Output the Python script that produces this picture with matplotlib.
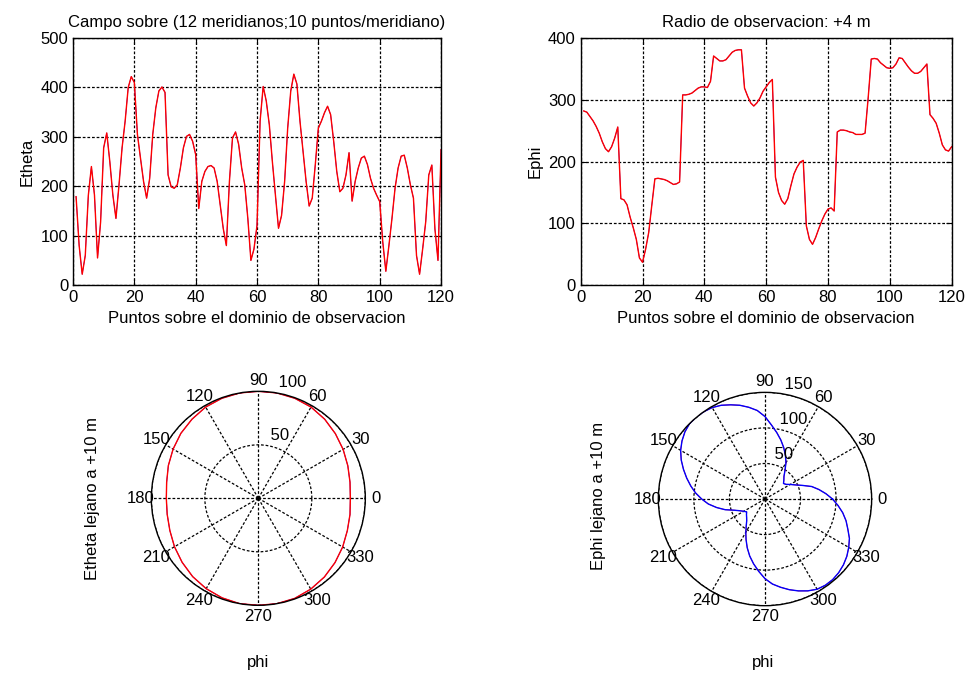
# Campo lejano: cortes Etheta / Ephi sobre el dominio de observacion
# y diagramas polares a +10 m (estilo figura MATLAB)

import matplotlib
matplotlib.use("Agg")
import matplotlib.pyplot as plt
import numpy as np

plt.rcParams['font.family'] = ['Liberation Sans', 'DejaVu Sans']
plt.rcParams['font.size'] = 12

puntos = list(range(1, 121))

etheta = [179, 80, 22, 60, 182, 240, 182, 55, 128, 278,
          308, 250, 182, 135, 203, 278, 332, 400, 422, 410,
          305, 257, 210, 176, 216, 305, 359, 393, 401, 390,
          223, 199, 196, 203, 237, 278, 301, 305, 291, 264,
          155, 210, 230, 240, 242, 237, 210, 162, 114, 80,
          210, 298, 310, 285, 237, 203, 135, 50, 73, 121,
          332, 402, 373, 325, 250, 182, 115, 141, 210, 318,
          393, 427, 407, 332, 271, 210, 160, 176, 244, 318,
          332, 349, 362, 345, 291, 230, 189, 196, 223, 268,
          170, 210, 237, 257, 261, 244, 216, 196, 182, 169,
          87, 28, 80, 135, 196, 237, 261, 263, 237, 203,
          176, 60, 22, 73, 128, 223, 243, 114, 50, 274]

ephi = [282, 280, 273, 266, 257, 246, 232, 221, 216, 224,
        238, 256, 140, 138, 130, 110, 93, 74, 44, 37,
        58, 85, 129, 172, 173, 172, 171, 169, 166, 163,
        164, 167, 308, 308, 309, 311, 315, 319, 321, 321,
        320, 330, 371, 367, 363, 363, 365, 371, 377, 380,
        381, 381, 319, 306, 295, 290, 295, 303, 314, 321,
        328, 333, 175, 150, 137, 131, 140, 161, 180, 191,
        199, 202, 96, 74, 66, 77, 91, 104, 115, 123,
        125, 120, 248, 251, 251, 250, 248, 247, 244, 244,
        244, 246, 303, 366, 367, 366, 360, 356, 352, 351,
        352, 358, 368, 367, 360, 353, 347, 343, 343, 346,
        352, 358, 276, 270, 262, 246, 227, 219, 217, 224]

# polar patterns (angle in degrees)
phi_theta = [0, 10, 20, 30, 40, 50, 60, 70, 80, 90, 100, 110, 120,
             130, 140, 150, 160, 170, 180, 190, 200, 210, 220, 230, 240,
             250, 260, 270, 280, 290, 300, 310, 320, 330, 340, 350, 360]
etheta_lejano = [86, 87, 89, 91.5, 94, 96.5, 98.5, 99.5, 100, 100, 100, 99.5, 98.5,
                 96.5, 94.5, 92, 89.5, 87, 86, 86.5, 88, 90.5, 93, 95.5, 97.5,
                 99, 100, 100, 100, 99.5, 98, 96, 93.5, 91, 88.5, 87, 86]

phi_phi = list(range(0, 361, 5))
ephi_lejano = [95, 86, 77, 68, 56, 47, 41, 36, 34, 37.5, 41.5, 49, 59, 68, 77,
               86, 95, 104.5, 116, 125, 131, 136.5, 141, 145.5, 148.5, 150, 150.5,
               150, 147, 142.5, 137, 130, 122, 114, 106, 98, 89, 80, 69, 58, 46,
               39, 34.5, 31.5, 34, 36.5, 40, 46, 54, 63, 73, 83, 92.5, 102, 112,
               120, 126, 132, 137.5, 142.5, 146.5, 148, 148, 146.5, 144, 140.5,
               136, 131, 124, 118, 111, 103, 95]

GRID = dict(color='black', linestyle=(0, (2.2, 1.5)), linewidth=0.9)


def style_cart(ax, ymax, ystep):
    ax.set_xlim(0, 120)
    ax.set_ylim(0, ymax)
    ax.set_xticks(range(0, 121, 20))
    ax.set_yticks(range(0, ymax + 1, ystep))
    ax.grid(True, **GRID)
    ax.tick_params(direction='in', top=True, right=True, length=4,
                   width=0.8, labelsize=12)
    for s in ax.spines.values():
        s.set_linewidth(1.0)
        s.set_color('black')


def style_polar(ax, rmax, rings):
    ax.set_ylim(0, rmax)
    ax.set_yticks(rings)
    ax.set_yticklabels([])
    ax.set_xticks(np.deg2rad(np.arange(0, 360, 30)))
    ax.set_xticklabels([])
    ax.grid(True, **GRID)
    ax.spines['polar'].set_color('black')
    ax.spines['polar'].set_linewidth(1.0)
    for d in range(0, 360, 30):
        ax.text(np.deg2rad(d), 1.1 * rmax, str(d), ha='center', va='center',
                fontsize=12, clip_on=False)
    rinc = rings[1] - rings[0]
    for r in rings:
        ax.text(np.deg2rad(82), r + rinc / 20, ' ' + str(r), ha='left',
                va='bottom', fontsize=12, clip_on=False)


fig = plt.figure(figsize=(9.67, 6.74), dpi=100)

ax1 = fig.add_axes([0.0755, 0.577, 0.3806, 0.3665])
ax1.plot(puntos, etheta, color='blue', linewidth=0.5)
ax1.plot(puntos, etheta, color='red', linewidth=1.0)
style_cart(ax1, 500, 100)
ax1.set_xlabel('Puntos sobre el dominio de observacion')
ax1.set_ylabel('Etheta')
ax1.set_title('Campo sobre (12 meridianos;10 puntos/meridiano)', fontsize=12, pad=8)

ax2 = fig.add_axes([0.6005, 0.577, 0.3836, 0.3665])
ax2.plot(puntos, ephi, color='blue', linewidth=0.5)
ax2.plot(puntos, ephi, color='red', linewidth=1.0)
style_cart(ax2, 400, 100)
ax2.set_xlabel('Puntos sobre el dominio de observacion')
ax2.set_ylabel('Ephi')
ax2.set_title('Radio de observacion: +4 m', fontsize=12, pad=8)

ax3 = fig.add_axes([0.1565, 0.1019, 0.2213, 0.3175], projection='polar')
th = np.deg2rad(phi_theta)
ax3.plot(th, etheta_lejano, color='blue', linewidth=0.6)
ax3.plot(th, etheta_lejano, color='red', linewidth=1.0)
style_polar(ax3, 100, [50, 100])
fig.text(92 / 967, 1 - 498 / 674, 'Etheta lejano a +10 m', rotation=90,
         ha='center', va='center', fontsize=12)
fig.text(258 / 967, 1 - 662 / 674, 'phi', ha='center', va='center', fontsize=12)

ax4 = fig.add_axes([0.6808, 0.1013, 0.2206, 0.3166], projection='polar')
th = np.deg2rad(phi_phi)
ax4.plot(th, ephi_lejano, color='red', linewidth=0.6)
ax4.plot(th, ephi_lejano, color='blue', linewidth=1.0)
style_polar(ax4, 150, [50, 100, 150])
fig.text(598 / 967, 1 - 496 / 674, 'Ephi lejano a +10 m', rotation=90,
         ha='center', va='center', fontsize=12)
fig.text(763 / 967, 1 - 662 / 674, 'phi', ha='center', va='center', fontsize=12)

fig.savefig('out.png', dpi=100, facecolor='white')
